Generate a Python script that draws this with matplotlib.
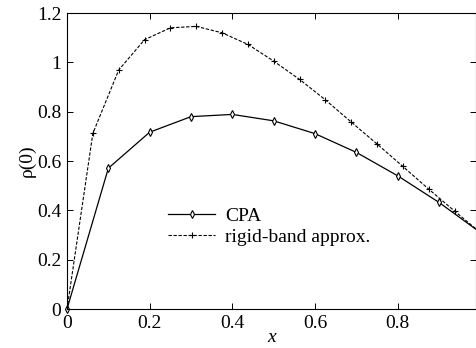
import matplotlib
matplotlib.use("Agg")
import matplotlib.pyplot as plt
import numpy as np

# CPA curve
x_cpa = [0.0, 0.1, 0.2, 0.3, 0.4, 0.5, 0.6, 0.7, 0.8, 0.9, 1.0]
rho_cpa = [0.0, 0.571, 0.717, 0.780, 0.789, 0.763, 0.711, 0.635, 0.540, 0.432, 0.31]

# rigid-band approximation, x = k/16
x_rb = [0.0, 0.0625, 0.125, 0.1875, 0.25, 0.3125, 0.375, 0.4375, 0.5,
        0.5625, 0.625, 0.6875, 0.75, 0.8125, 0.875, 0.9375, 1.0]
rho_rb = [0.0, 0.712, 0.969, 1.092, 1.140, 1.146, 1.120, 1.073, 1.005,
          0.931, 0.848, 0.758, 0.669, 0.578, 0.486, 0.397, 0.31]

plt.rcParams['font.family'] = ['Liberation Serif', 'DejaVu Serif']

fig = plt.figure(figsize=(4.77, 3.48), dpi=100)
ax = fig.add_axes([0.1405, 0.112, 0.858, 0.8505])

ax.plot(x_cpa, rho_cpa, color='black', lw=0.9, marker='d', ms=4,
        mfc='white', mec='black', mew=0.8, label='CPA', clip_on=False)
ax.plot(x_rb, rho_rb, color='black', lw=0.8, ls=(0, (3, 1.5)), marker='+',
        ms=4, mew=0.8, label='rigid-band approx.')

ax.set_xlim(0, 0.99)
ax.set_ylim(0, 1.2)
ax.set_xticks([0, 0.2, 0.4, 0.6, 0.8])
ax.set_xticklabels(['0', '0.2', '0.4', '0.6', '0.8'])
ax.set_yticks([0, 0.2, 0.4, 0.6, 0.8, 1.0, 1.2])
ax.set_yticklabels(['0', '0.2', '0.4', '0.6', '0.8', '1', '1.2'])
ax.tick_params(direction='in', top=True, right=True, labelsize=14, length=4,
               width=0.7, pad=4)
for s in ax.spines.values():
    s.set_linewidth(0.8)

ax.set_xlabel('x', fontsize=14, style='italic', labelpad=-2)
ax.set_ylabel('ρ(0)', fontsize=14, labelpad=1)

ax.legend(loc='lower left', bbox_to_anchor=(0.205, 0.155), frameon=False,
          fontsize=14, handlelength=2.4, handletextpad=0.5, labelspacing=0.15)

plt.savefig('out.png', dpi=100)
